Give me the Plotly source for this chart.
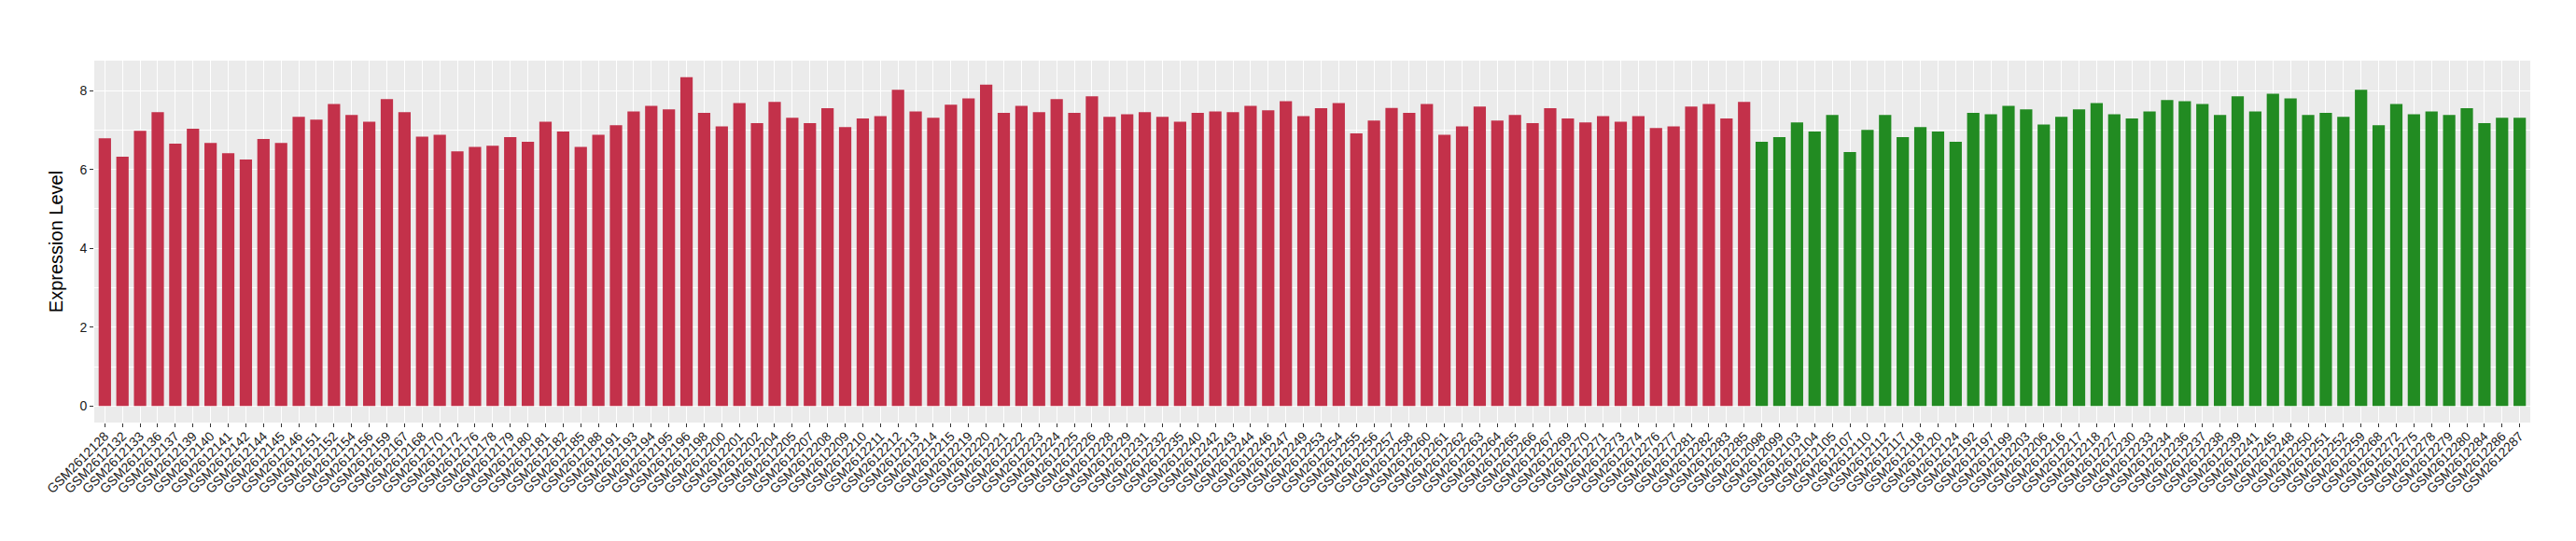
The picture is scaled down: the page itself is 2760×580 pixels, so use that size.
import plotly.graph_objects as go

# Group 1 (red) samples and values
red_samples = ["GSM2612128","GSM2612132","GSM2612133","GSM2612136","GSM2612137","GSM2612139","GSM2612140","GSM2612141","GSM2612142","GSM2612144",
               "GSM2612145","GSM2612146","GSM2612151","GSM2612152","GSM2612154","GSM2612156","GSM2612159","GSM2612167","GSM2612168","GSM2612170",
               "GSM2612172","GSM2612176","GSM2612178","GSM2612179","GSM2612180","GSM2612181","GSM2612182","GSM2612185","GSM2612188","GSM2612191",
               "GSM2612193","GSM2612194","GSM2612195","GSM2612196","GSM2612198","GSM2612200","GSM2612201","GSM2612202","GSM2612204","GSM2612205",
               "GSM2612207","GSM2612208","GSM2612209","GSM2612210","GSM2612211","GSM2612212","GSM2612213","GSM2612214","GSM2612215","GSM2612219",
               "GSM2612220","GSM2612221","GSM2612222","GSM2612223","GSM2612224","GSM2612225","GSM2612226","GSM2612228","GSM2612229","GSM2612231",
               "GSM2612232","GSM2612235","GSM2612240","GSM2612242","GSM2612243","GSM2612244","GSM2612246","GSM2612247","GSM2612249","GSM2612253",
               "GSM2612254","GSM2612255","GSM2612256","GSM2612257","GSM2612258","GSM2612260","GSM2612261","GSM2612262","GSM2612263","GSM2612264",
               "GSM2612265","GSM2612266","GSM2612267","GSM2612269","GSM2612270","GSM2612271","GSM2612273","GSM2612274","GSM2612276","GSM2612277",
               "GSM2612281","GSM2612282","GSM2612283","GSM2612285"]
red_values = [6.79,6.32,6.98,7.45,6.65,7.03,6.67,6.41,6.25,6.77,
              6.67,7.33,7.26,7.66,7.38,7.21,7.78,7.45,6.83,6.88,
              6.46,6.57,6.60,6.82,6.70,7.21,6.96,6.57,6.88,7.12,
              7.47,7.61,7.52,8.34,7.43,7.09,7.68,7.17,7.71,7.31,
              7.17,7.55,7.07,7.29,7.35,8.02,7.47,7.31,7.64,7.80,
              8.15,7.43,7.61,7.45,7.78,7.43,7.85,7.33,7.40,7.45,
              7.33,7.21,7.43,7.47,7.45,7.61,7.50,7.73,7.35,7.55,
              7.68,6.91,7.24,7.56,7.43,7.66,6.88,7.09,7.59,7.24,
              7.38,7.17,7.55,7.29,7.19,7.35,7.21,7.35,7.05,7.09,
              7.59,7.66,7.29,7.71]

# Group 2 (green) samples and values
green_samples = ["GSM2612098","GSM2612099","GSM2612103","GSM2612104","GSM2612105","GSM2612107","GSM2612110","GSM2612112","GSM2612117","GSM2612118",
                 "GSM2612120","GSM2612124","GSM2612192","GSM2612197","GSM2612199","GSM2612203","GSM2612206","GSM2612216","GSM2612217","GSM2612218",
                 "GSM2612227","GSM2612230","GSM2612233","GSM2612234","GSM2612236","GSM2612237","GSM2612238","GSM2612239","GSM2612241","GSM2612245",
                 "GSM2612248","GSM2612250","GSM2612251","GSM2612252","GSM2612259","GSM2612268","GSM2612272","GSM2612275","GSM2612278","GSM2612279",
                 "GSM2612280","GSM2612284","GSM2612286","GSM2612287"]
green_values = [6.70,6.82,7.19,6.96,7.38,6.44,7.00,7.38,6.82,7.07,
                6.96,6.70,7.43,7.40,7.61,7.52,7.14,7.33,7.52,7.68,
                7.40,7.29,7.47,7.76,7.73,7.66,7.38,7.85,7.47,7.92,
                7.80,7.38,7.43,7.33,8.02,7.12,7.66,7.40,7.47,7.38,
                7.55,7.17,7.31,7.31]

y_ticks = [0, 2, 4, 6, 8]

RED = "#C3314A"
GREEN = "#228B22"

all_samples = red_samples + green_samples
ymax = max(red_values + green_values)
pad = ymax * 0.05

fig = go.Figure()
fig.add_trace(go.Bar(x=red_samples, y=red_values, marker=dict(color=RED, line=dict(width=0)),
                     showlegend=False))
fig.add_trace(go.Bar(x=green_samples, y=green_values, marker=dict(color=GREEN, line=dict(width=0)),
                     showlegend=False))

fig.update_layout(
    width=2760, height=580,
    margin=dict(l=93, r=57, t=57, b=135),
    paper_bgcolor="white",
    plot_bgcolor="#EBEBEB",
    barmode="overlay",
    bargap=0.3,
    font=dict(family="Liberation Sans, Arial, sans-serif", color="#1a1a1a"),
    xaxis=dict(
        type="category",
        categoryorder="array", categoryarray=all_samples,
        range=[-0.6, len(all_samples) - 1 + 0.6],
        tickangle=-45,
        tickfont=dict(size=14, color="#1a1a1a"),
        ticklabelstandoff=-4,
        showgrid=True, gridcolor="white", gridwidth=1.4,
        ticks="outside", ticklen=4, tickcolor="#333333", tickwidth=1,
        zeroline=False, showline=False,
    ),
    yaxis=dict(
        range=[-pad, ymax + pad],
        tickvals=y_ticks,
        ticktext=[str(v) for v in y_ticks],
        tickfont=dict(size=14, color="#1a1a1a"),
        title=dict(text="Expression Level", font=dict(size=20, color="black"), standoff=12),
        showgrid=True, gridcolor="white", gridwidth=1.4,
        minor=dict(tickvals=[1, 3, 5, 7], showgrid=True, gridcolor="white", gridwidth=0.6),
        ticks="outside", ticklen=4, tickcolor="#333333", tickwidth=1,
        zeroline=False, showline=False,
    ),
)

fig.write_html("out.html")
